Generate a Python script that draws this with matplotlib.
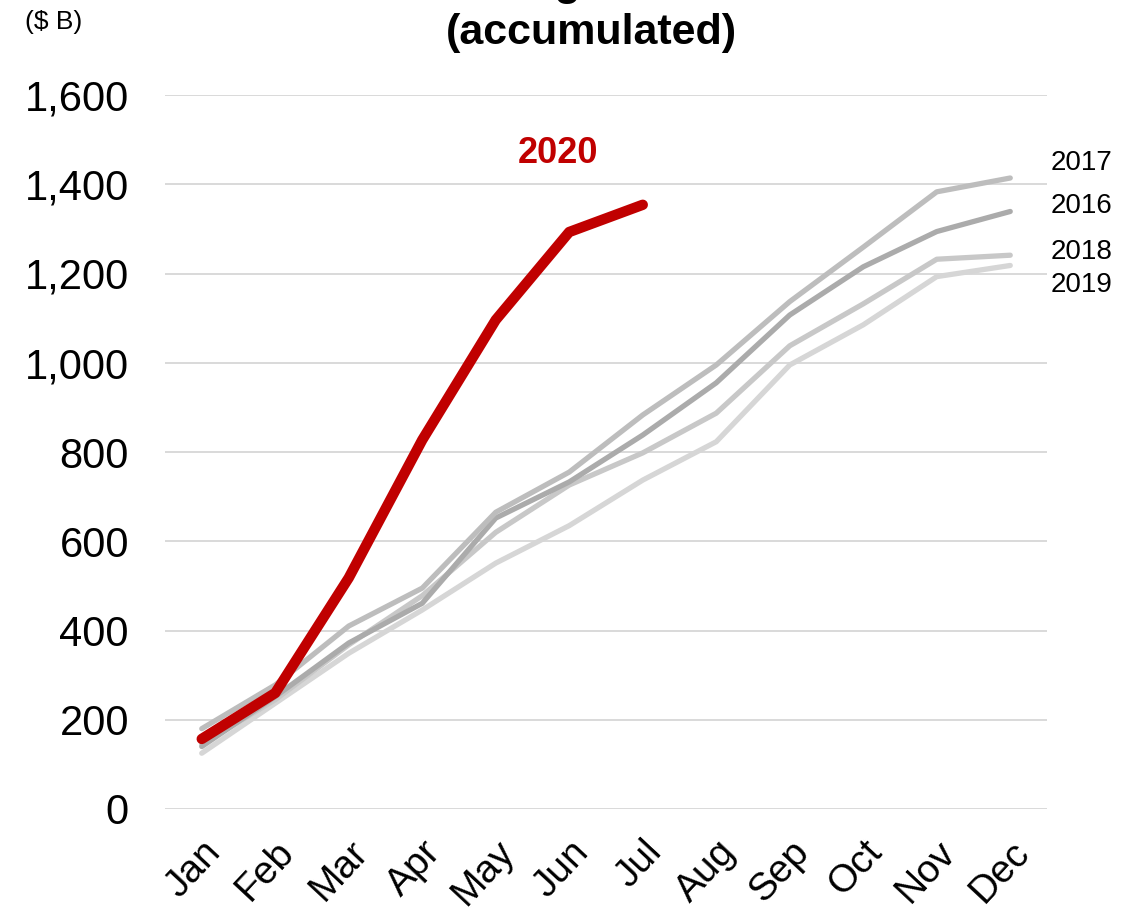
import matplotlib
matplotlib.use("Agg")
import matplotlib.pyplot as plt
from matplotlib.transforms import ScaledTranslation

plt.rcParams['font.family'] = ['Liberation Sans', 'DejaVu Sans']

months = ["Jan", "Feb", "Mar", "Apr", "May", "Jun",
          "Jul", "Aug", "Sep", "Oct", "Nov", "Dec"]

# Accumulated issuance, $ billions
y2016 = [140, 252, 372, 461, 652, 733, 838, 955, 1107, 1215, 1294, 1339]
y2017 = [180, 278, 410, 495, 665, 755, 883, 995, 1137, 1259, 1383, 1414]
y2018 = [145, 245, 368, 478, 620, 726, 798, 887, 1038, 1132, 1232, 1241]
y2019 = [125, 237, 349, 446, 551, 635, 737, 823, 995, 1085, 1193, 1218]
y2020 = [157, 260, 518, 827, 1096, 1293, 1354]

yticks = [0, 200, 400, 600, 800, 1000, 1200, 1400, 1600]

fig = plt.figure(figsize=(11.35, 9.15), dpi=100)
ax = fig.add_axes([165 / 1135, 106 / 915, 882 / 1135, 714 / 915])

ax.set_xlim(-0.5, 11.5)
ax.set_ylim(0, 1600)
ax.set_yticks(yticks)
ax.set_yticklabels([f"{v:,}" for v in yticks], fontsize=30)
ax.set_xticks(range(len(months)))
ax.set_xticklabels(months, fontsize=28, rotation=47, ha="right",
                   va="top", rotation_mode="anchor")
shift = ScaledTranslation(-8 / 100, 0, fig.dpi_scale_trans)
for lbl in ax.get_xticklabels():
    lbl.set_transform(lbl.get_transform() + shift)
ax.tick_params(axis="both", length=0)
ax.tick_params(axis="y", pad=26)
ax.tick_params(axis="x", pad=18)
for s in ax.spines.values():
    s.set_visible(False)
ax.grid(axis="y", color="#D9D9D9", linewidth=1.4)
ax.set_axisbelow(True)

x_full = range(len(months))
series = [
    ("2019", y2019, "#D6D6D6", -14),
    ("2018", y2018, "#C8C8C8", 2),
    ("2016", y2016, "#ABABAB", 4),
    ("2017", y2017, "#BDBDBD", 11),
]
for name, vals, col, dy in series:
    ax.plot(x_full, vals, color=col, linewidth=3.8, solid_capstyle="round",
            solid_joinstyle="round", clip_on=False)
    ax.annotate(name, xy=(len(vals) - 1, vals[-1]), xytext=(29, dy),
                textcoords="offset points", fontsize=20, color="black",
                ha="left", va="center", annotation_clip=False)

ax.plot(range(len(y2020)), y2020, color="#C00000", linewidth=7.5,
        solid_capstyle="round", solid_joinstyle="round", clip_on=False, zorder=5)
ax.text(4.85, 1470, "2020", color="#C00000", fontsize=26, fontweight="bold",
        ha="center", va="center")

fig.text(591 / 1135, 1 + 5 / 915, "Investment-grade Issuance",
         fontsize=31, fontweight="bold", ha="center", va="baseline")
fig.text(591 / 1135, 1 - 33 / 915, "(accumulated)", fontsize=31,
         fontweight="bold", ha="center", va="center")
fig.text(25 / 1135, 1 - 22 / 915, "($ B)", fontsize=19, ha="left", va="center")

fig.savefig("out.png", dpi=100)
